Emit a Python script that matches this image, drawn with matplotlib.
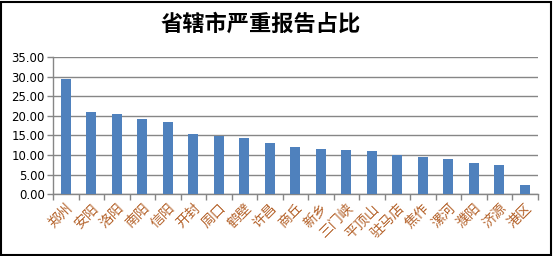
import matplotlib.pyplot as plt
from matplotlib.patches import Rectangle

plt.rcParams['font.family'] = ['Noto Sans CJK SC', 'DejaVu Sans']

cities = ["郑州", "安阳", "洛阳", "南阳", "信阳", "开封", "周口", "鹤壁", "许昌", "商丘",
          "新乡", "三门峡", "平顶山", "驻马店", "焦作", "漯河", "濮阳", "济源", "港区"]
share = [29.3, 21.1, 20.6, 19.3, 18.5, 15.4, 14.9, 14.4, 13.2, 12.1,
         11.6, 11.3, 11.1, 9.9, 9.6, 9.0, 8.0, 7.5, 2.4]
yticks = [0, 5, 10, 15, 20, 25, 30, 35]

fig = plt.figure(figsize=(5.53, 2.56), dpi=100)
ax = fig.add_axes([0.096, 0.241, 0.876, 0.536])

x = range(len(cities))
ax.bar(x, share, width=0.4, color='#4F81BD', zorder=3)

ax.set_xlim(-0.5, len(cities) - 0.5)
ax.set_ylim(0, 35)
ax.set_yticks(yticks)
ax.set_yticklabels(["%.2f" % v for v in yticks], fontsize=8.5, family='DejaVu Sans')
ax.yaxis.grid(True, color='#868686', linewidth=1, zorder=0)

# category ticks at boundaries, labels in the middle
ax.set_xticks([i - 0.5 for i in range(len(cities) + 1)])
ax.set_xticklabels([])
ax.set_xticks(list(x), minor=True)
ax.set_xticklabels(cities, minor=True, rotation=45, ha='right', va='top',
                   rotation_mode='anchor', fontsize=10, color='#B4622A')
ax.tick_params(axis='x', which='minor', length=0, pad=5)
ax.tick_params(axis='x', which='major', length=4, color='#868686', width=1)
ax.tick_params(axis='y', length=4, color='#868686', width=1, pad=2)

for s in ['top', 'right']:
    ax.spines[s].set_visible(False)
for s in ['left', 'bottom']:
    ax.spines[s].set_color('#868686')
    ax.spines[s].set_linewidth(1)

fig.text(0.472, 0.906, "省辖市严重报告占比", ha='center', va='center',
         fontsize=16, fontweight='bold')

fig.add_artist(Rectangle((0.002, 0.004), 0.994, 0.99, transform=fig.transFigure,
                         fill=False, edgecolor='black', linewidth=1.5))

fig.savefig("out.png", dpi=100)
